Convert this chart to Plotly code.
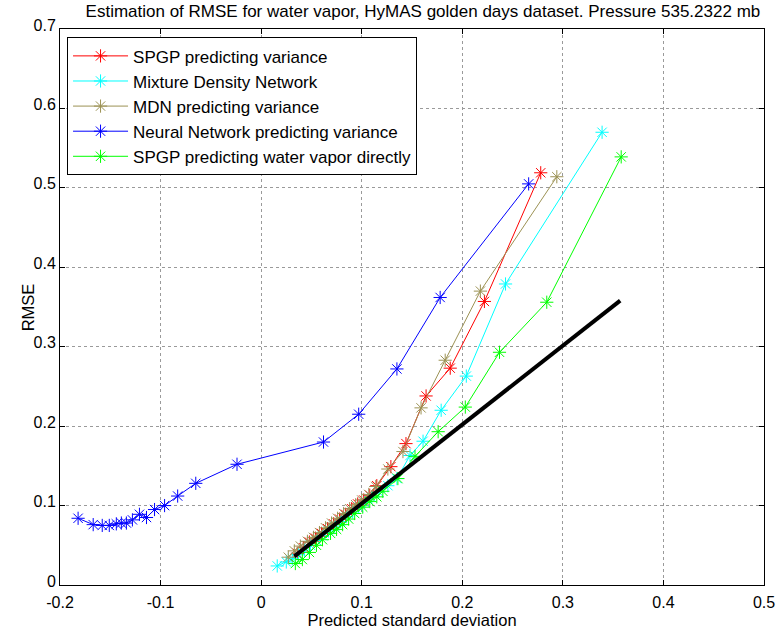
import plotly.graph_objects as go

# Predicted standard deviation (x) vs RMSE (y) per model
nn_x = [-0.182, -0.167, -0.158, -0.151, -0.144, -0.139, -0.134, -0.128, -0.121, -0.114,
        -0.106, -0.096, -0.083, -0.065, -0.024, 0.062, 0.097, 0.135, 0.178, 0.266]
nn_y = [0.084, 0.076, 0.075, 0.075, 0.077, 0.078, 0.078, 0.082, 0.089, 0.085,
        0.095, 0.100, 0.112, 0.128, 0.152, 0.180, 0.215, 0.272, 0.362, 0.505]

spgp_var_x = [0.036, 0.042, 0.048, 0.054, 0.060, 0.066, 0.072, 0.078, 0.084, 0.090,
              0.096, 0.102, 0.108, 0.115, 0.129, 0.144, 0.164, 0.188, 0.222, 0.278]
spgp_var_y = [0.040, 0.047, 0.054, 0.059, 0.065, 0.071, 0.077, 0.083, 0.089, 0.096,
              0.102, 0.107, 0.113, 0.125, 0.149, 0.178, 0.238, 0.273, 0.357, 0.519]

mdn_var_x = [0.027, 0.033, 0.039, 0.046, 0.052, 0.058, 0.064, 0.070, 0.076, 0.082,
             0.088, 0.094, 0.100, 0.107, 0.114, 0.126, 0.141, 0.159, 0.183, 0.218, 0.294]
mdn_var_y = [0.035, 0.043, 0.049, 0.055, 0.060, 0.066, 0.072, 0.078, 0.084, 0.090,
             0.096, 0.101, 0.107, 0.114, 0.124, 0.146, 0.168, 0.223, 0.283, 0.370, 0.514]

mdn_x = [0.016, 0.025, 0.031, 0.037, 0.043, 0.049, 0.055, 0.061, 0.067, 0.073,
         0.079, 0.085, 0.091, 0.097, 0.103, 0.110, 0.117, 0.126, 0.135, 0.148,
         0.161, 0.179, 0.204, 0.243, 0.339]
mdn_y = [0.024, 0.029, 0.033, 0.038, 0.044, 0.050, 0.056, 0.062, 0.068, 0.074,
         0.080, 0.086, 0.092, 0.098, 0.104, 0.110, 0.117, 0.125, 0.134, 0.163,
         0.181, 0.220, 0.263, 0.379, 0.570]

spgp_wv_x = [0.034, 0.041, 0.048, 0.055, 0.061, 0.069, 0.075, 0.081, 0.087, 0.093,
             0.101, 0.108, 0.115, 0.121, 0.136, 0.153, 0.176, 0.203, 0.237, 0.284, 0.358]
spgp_wv_y = [0.027, 0.032, 0.041, 0.050, 0.057, 0.065, 0.070, 0.076, 0.083, 0.090,
             0.098, 0.105, 0.111, 0.118, 0.134, 0.162, 0.193, 0.224, 0.293, 0.356, 0.539]

# Ideal calibration reference (RMSE equals predicted std)
ideal_x = [0.033, 0.357]
ideal_y = [0.036, 0.358]

x_ticks = [-0.2, -0.1, 0, 0.1, 0.2, 0.3, 0.4, 0.5]
y_ticks = [0, 0.1, 0.2, 0.3, 0.4, 0.5, 0.6, 0.7]

series = [
    ("SPGP predicting variance", spgp_var_x, spgp_var_y, "#ff0000"),
    ("Mixture Density Network", mdn_x, mdn_y, "#00ffff"),
    ("MDN predicting variance", mdn_var_x, mdn_var_y, "#9c9254"),
    ("Neural Network predicting variance", nn_x, nn_y, "#0000ff"),
    ("SPGP predicting water vapor directly", spgp_wv_x, spgp_wv_y, "#00ff00"),
]

fig = go.Figure()
for name, xs, ys, col in series:
    fig.add_trace(go.Scatter(
        x=xs, y=ys, name=name, mode="lines+markers",
        line=dict(color=col, width=1),
        marker=dict(symbol="asterisk-open", size=11, color=col, line=dict(color=col, width=1)),
    ))

fig.add_trace(go.Scatter(
    x=ideal_x, y=ideal_y, mode="lines", showlegend=False,
    line=dict(color="black", width=4),
))

axis_common = dict(
    showline=True, linecolor="black", linewidth=1, mirror="allticks",
    ticks="inside", ticklen=5, tickcolor="black",
    showgrid=True, gridcolor="#9a9a9a", griddash="dot", gridwidth=1,
    zeroline=False, tickfont=dict(size=16, color="black"), automargin=False,
)

fig.update_xaxes(range=[-0.2, 0.5], tickvals=x_ticks,
                 ticktext=[f"{v:g}" for v in x_ticks], ticklabelstandoff=3,
                 title=dict(text="Predicted standard deviation", font=dict(size=16.5, color="black"), standoff=4),
                 **axis_common)
fig.update_yaxes(range=[0, 0.7], tickvals=y_ticks,
                 ticktext=[f"{v:g}" for v in y_ticks], ticklabelshift=-4,
                 **axis_common)

fig.add_annotation(text="RMSE", textangle=-90, xref="paper", yref="paper",
                   x=-0.045, y=0.5, xanchor="center", yanchor="middle", showarrow=False,
                   font=dict(size=16.5, color="black"))

fig.update_layout(
    width=776, height=636,
    margin=dict(l=60, r=12, t=29, b=51),
    paper_bgcolor="white", plot_bgcolor="white",
    font=dict(family="Liberation Sans, Arial, sans-serif", color="black"),
    title=dict(text="Estimation of RMSE for water vapor, HyMAS golden days dataset. Pressure 535.2322 mb",
               x=0.545, xanchor="center", y=0.992, yanchor="top", font=dict(size=17, color="black")),
    legend=dict(x=0.01, y=0.985, xanchor="left", yanchor="top",
                bgcolor="white", bordercolor="black", borderwidth=1,
                font=dict(size=17, color="black"), itemwidth=55),
    showlegend=True,
)

fig.write_html("out.html")
